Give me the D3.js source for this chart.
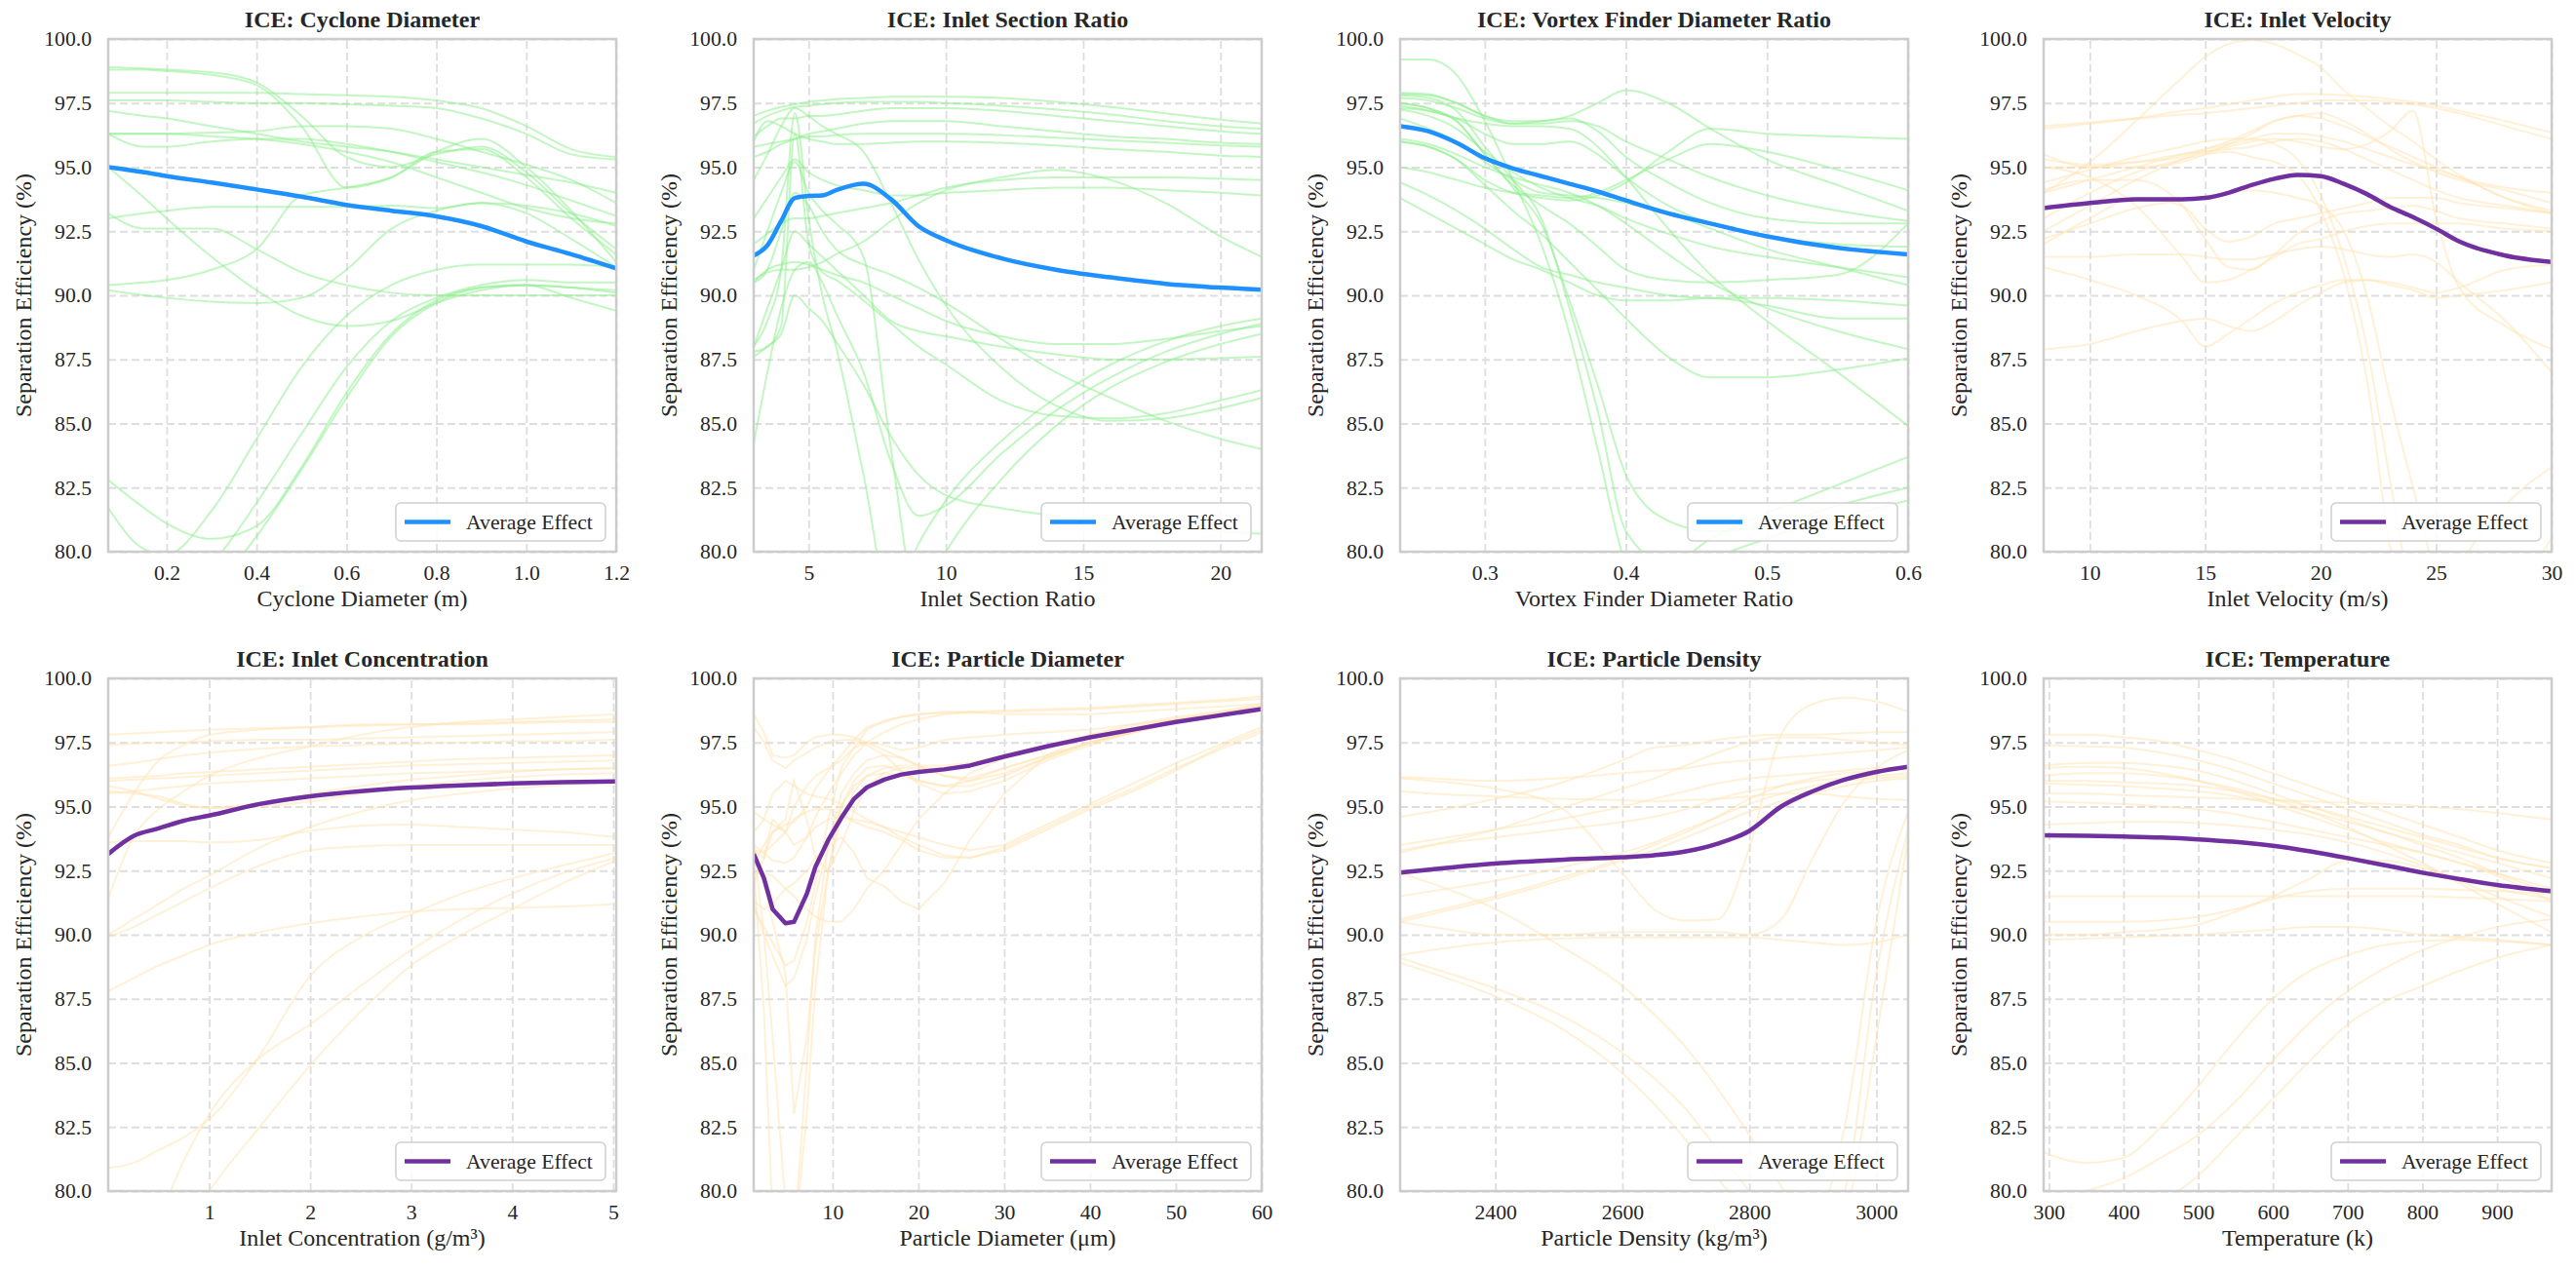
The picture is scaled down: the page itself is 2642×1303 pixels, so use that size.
<!DOCTYPE html>
<html>
<head>
<meta charset="utf-8">
<script src="https://cdn.jsdelivr.net/npm/d3@7"></script>
<style>
  html, body { margin: 0; padding: 0; background: #fff; }
  svg { display: block; }
</style>
</head>
<body>
<div id="chart"></div>
<script>
// ---- shared axis data ----
const yTicks = [80, 82.5, 85, 87.5, 90, 92.5, 95, 97.5, 100];

// ---- Cyclone Diameter ----
const cycloneX = [0.07, 0.15, 0.2, 0.3, 0.4, 0.5, 0.6, 0.7, 0.8, 0.9, 1.0, 1.1, 1.2];
const cycloneAvg = [95.0, 94.8, 94.65, 94.4, 94.13, 93.85, 93.53, 93.3, 93.08, 92.7, 92.1, 91.6, 91.05];
const cycloneIce = [
  [98.9, 98.85, 98.8, 98.7, 98.3, 97.0, 95.4, 95.0, 95.5, 95.8, 94.8, 93.2, 91.8],
  [98.8, 98.8, 98.75, 98.6, 98.2, 96.6, 94.2, 94.6, 95.6, 95.7, 94.6, 93.0, 91.6],
  [97.9, 97.9, 97.9, 97.9, 97.9, 97.85, 97.8, 97.75, 97.6, 97.3, 96.6, 95.7, 95.4],
  [97.6, 97.6, 97.6, 97.55, 97.5, 97.5, 97.45, 97.4, 97.3, 96.9, 96.3, 95.5, 95.3],
  [97.2, 97.0, 96.9, 96.6, 96.3, 96.0, 95.8, 95.6, 95.3, 95.0, 94.7, 94.4, 94.0],
  [96.3, 96.3, 96.3, 96.35, 96.4, 96.6, 96.6, 96.5, 96.1, 95.6, 95.1, 94.5, 93.6],
  [96.3, 95.8, 95.8, 96.0, 96.1, 96.1, 95.9, 95.6, 95.2, 94.8, 94.3, 93.7, 93.1],
  [96.3, 96.3, 96.3, 96.2, 96.1, 95.9, 95.6, 95.2, 94.6, 94.0, 93.4, 93.0, 92.8],
  [95.0, 93.8, 93.0, 91.5, 90.2, 89.2, 88.8, 89.0, 89.7, 90.2, 90.4, 90.3, 90.1],
  [93.2, 92.6, 92.6, 92.6, 91.8, 90.9, 90.4, 90.1, 90.0, 90.0, 90.0, 90.0, 90.0],
  [93.0, 93.2, 93.3, 93.45, 93.45, 93.45, 93.45, 93.5, 93.4, 93.6, 93.5, 93.2, 92.7],
  [90.4, 90.5, 90.6, 91.0, 91.8, 93.9, 94.2, 94.6, 95.6, 96.1, 95.0, 93.3, 91.3],
  [90.2, 90.0, 89.9, 89.75, 89.7, 89.9, 91.0, 92.6, 93.3, 93.6, 93.2, 92.2, 91.1],
  [82.8, 81.7, 81.1, 80.5, 81.0, 83.3, 86.2, 88.5, 89.8, 90.3, 90.4, 90.3, 90.2],
  [81.7, 80.1, 79.9, 81.6, 84.4, 87.2, 89.2, 90.4, 91.0, 91.2, 91.2, 91.2, 91.1],
  [77.0, 77.5, 78.0, 79.5, 81.9, 84.6, 87.2, 89.0, 89.9, 90.4, 90.6, 90.5, 90.5],
  [76.0, 76.5, 77.0, 78.5, 80.6, 83.2, 86.0, 88.4, 89.7, 90.3, 90.4, 89.9, 89.4]
];

// ---- Inlet Section Ratio ----
const sectionX = [3, 3.5, 4, 4.5, 5, 5.5, 6, 7, 8, 9, 10, 12, 14, 16, 18, 20, 21.5];
const sectionAvg = [91.55, 91.95, 92.9, 93.8, 93.88, 93.9, 94.1, 94.35, 93.75, 92.7, 92.15, 91.45, 91.0, 90.7, 90.45, 90.3, 90.22];
const sectionIce = [
  [97.0, 97.2, 97.35, 97.45, 97.55, 97.6, 97.65, 97.7, 97.75, 97.75, 97.75, 97.7, 97.55, 97.35, 97.1, 96.85, 96.7],
  [96.7, 97.0, 97.2, 97.35, 97.4, 97.45, 97.5, 97.55, 97.55, 97.55, 97.5, 97.4, 97.25, 97.05, 96.8, 96.6, 96.5],
  [96.2, 96.6, 96.9, 96.9, 97.0, 97.0, 97.05, 97.2, 97.3, 97.3, 97.3, 97.2, 97.0, 96.8, 96.6, 96.4, 96.3],
  [95.4, 95.6, 95.9, 96.1, 96.3, 96.4, 96.5, 96.7, 96.8, 96.8, 96.8, 96.6, 96.4, 96.2, 96.1, 95.95, 95.9],
  [95.8, 95.9, 96.0, 96.1, 96.2, 96.2, 96.25, 96.3, 96.3, 96.3, 96.3, 96.25, 96.15, 96.05, 95.95, 95.85, 95.8],
  [96.0, 96.8, 96.6, 96.3, 96.1, 96.0, 95.9, 95.9, 95.95, 96.0, 96.0, 95.95, 95.85, 95.7, 95.6, 95.45, 95.4],
  [92.0, 92.4, 92.8, 93.0, 93.0, 93.1, 93.2, 93.4, 93.6, 93.9, 94.2, 94.5, 94.6, 94.6, 94.6, 94.55, 94.5],
  [90.6, 90.9, 91.0, 91.0, 91.1, 91.3, 91.6, 92.1, 92.9, 93.6, 94.1, 94.6, 94.9, 94.5, 93.6, 92.3, 91.5],
  [93.0, 93.8, 94.6, 95.3, 94.8, 94.5, 94.3, 94.1, 93.9, 93.9, 94.0, 94.1, 94.2, 94.2, 94.1, 94.0, 93.9],
  [94.5, 95.5, 96.6, 97.3, 97.0, 96.6, 96.3, 95.6, 93.6, 91.4, 89.6, 87.2, 85.7, 85.1, 85.2, 85.6, 86.0],
  [87.8, 88.0, 88.8, 96.3, 92.0, 90.9, 90.6, 89.8, 88.9, 88.0, 87.3, 85.9, 85.3, 85.2, 85.4, 85.9, 86.3],
  [88.0, 89.0, 91.0, 97.1, 93.0, 90.0, 88.0, 83.0, 78.0, 80.3, 82.0, 84.3, 86.0, 87.3, 88.2, 88.8, 89.1],
  [91.0, 92.5, 94.0, 95.2, 94.0, 93.3, 92.8, 91.5, 84.0, 78.0, 80.0, 82.8, 84.9, 86.4, 87.4, 88.1, 88.5],
  [84.2, 87.0, 89.5, 91.0, 91.3, 90.5, 89.3, 87.0, 83.5, 81.4, 81.8, 83.8, 85.5, 86.8, 87.8, 88.5, 88.9],
  [90.5, 91.0, 91.2, 91.3, 91.2, 91.0, 90.8, 90.5, 90.0, 89.5, 89.0, 88.4, 88.1, 88.1, 88.3, 88.6, 88.8],
  [88.0, 89.5, 91.0, 92.5, 92.0, 91.5, 91.0, 90.0, 89.0, 88.6, 88.4, 88.0, 87.7, 87.5, 87.5, 87.55, 87.6],
  [90.5, 91.0, 92.5, 94.0, 93.5, 92.5, 91.8, 91.2, 90.8, 90.3, 89.7, 88.3, 87.0, 86.0, 85.1, 84.4, 84.0],
  [87.6, 88.0, 88.5, 90.0, 89.5, 89.0, 88.2, 86.5, 84.5, 83.0, 82.2, 81.7, 81.4, 81.2, 81.0, 80.8, 80.7]
];

// ---- Vortex Finder Diameter Ratio ----
const vortexX = [0.24, 0.26, 0.28, 0.30, 0.32, 0.34, 0.36, 0.38, 0.40, 0.43, 0.46, 0.50, 0.55, 0.60];
const vortexAvg = [96.6, 96.4, 95.95, 95.35, 94.95, 94.65, 94.35, 94.05, 93.7, 93.2, 92.8, 92.3, 91.85, 91.6];
const vortexIce = [
  [99.2, 99.2, 98.6, 96.8, 94.5, 92.0, 88.5, 84.0, 79.5, 77.5, 79.5, 80.5, 81.3, 82.0],
  [97.8, 97.7, 97.2, 95.8, 94.5, 93.0, 89.5, 85.5, 80.8, 79.5, 80.5, 81.5, 82.6, 83.7],
  [97.5, 97.3, 96.8, 95.5, 94.2, 92.8, 89.8, 86.5, 83.0, 81.2, 80.8, 81.0, 81.8, 82.5],
  [97.9, 97.85, 97.5, 97.0, 96.8, 96.8, 97.0, 97.5, 98.0, 97.5, 96.5, 95.3, 94.3, 93.3],
  [96.0, 95.8, 95.3, 94.5, 94.0, 93.8, 93.7, 93.9, 94.4, 95.6, 96.5, 96.3, 96.2, 96.1],
  [95.0, 94.8, 94.5, 94.2, 94.0, 93.9, 93.8, 94.0, 94.5, 95.3, 95.9, 95.6, 94.9, 94.1],
  [97.85, 97.8, 97.5, 97.0, 96.7, 96.7, 96.8, 96.6, 96.0, 95.3, 94.6, 93.9, 93.3, 92.9],
  [97.7, 97.6, 97.3, 96.9, 96.7, 96.8, 96.9, 96.4, 95.4, 94.4, 93.6, 93.0, 92.8, 92.8],
  [97.4, 97.2, 96.9, 96.3, 95.9, 95.9, 96.0, 95.5, 94.6, 93.5, 92.8, 92.3, 92.0, 91.9],
  [97.25, 97.0, 96.5, 95.6, 94.8, 94.2, 93.8, 93.5, 93.0, 92.4, 91.9, 91.5, 91.1, 90.7],
  [96.9, 96.5, 96.0, 95.2, 94.5, 94.0, 93.9, 93.8, 93.6, 93.2, 92.6, 91.8, 91.1, 90.4],
  [97.3, 97.2, 96.9, 96.7, 96.6, 96.6, 96.5, 95.8, 94.6, 92.6, 90.8, 89.0, 87.0, 84.9],
  [96.1, 95.9, 95.5, 95.0, 94.6, 94.3, 94.0, 93.5, 92.8, 91.6, 90.5, 89.5, 88.6, 87.9],
  [96.0, 95.8, 95.3, 94.3, 93.3, 92.4, 91.3, 90.2, 89.1, 87.6, 86.8, 86.8, 87.1, 87.55],
  [94.4, 93.9, 93.3, 92.6, 91.8, 91.1, 90.8, 90.5, 90.3, 90.0, 89.9, 89.9, 89.8, 89.6],
  [93.8, 93.2, 92.6, 92.0, 91.4, 91.0, 90.5, 90.0, 89.8, 89.8, 89.9, 89.6, 89.1, 89.1],
  [97.5, 97.3, 96.8, 95.5, 94.3, 93.5, 92.8, 91.9, 91.0, 90.6, 90.5, 90.6, 90.8, 92.8]
];

// ---- Inlet Velocity ----
const velocityX = [8, 10, 12, 14, 15, 16, 17, 18, 19, 20, 21, 22, 23, 24, 25, 26, 28, 30];
const velocityAvg = [93.4, 93.6, 93.75, 93.75, 93.8, 94.0, 94.3, 94.55, 94.7, 94.65, 94.35, 93.95, 93.45, 93.05, 92.6, 92.1, 91.55, 91.3];
const velocityIce = [
  [94.0, 95.2, 96.8, 98.5, 99.3, 99.8, 99.95, 99.8, 99.4, 98.9, 98.0, 97.3, 96.6, 96.0, 95.3, 94.7, 93.8, 93.2],
  [96.5, 96.7, 96.9, 97.2, 97.3, 97.45, 97.6, 97.75, 97.85, 97.85, 97.8, 97.75, 97.65, 97.55, 97.4, 97.2, 96.8, 96.35],
  [96.6, 96.75, 96.9, 97.05, 97.1, 97.2, 97.3, 97.4, 97.5, 97.6, 97.6, 97.6, 97.55, 97.45, 97.3, 97.1, 96.6, 96.1],
  [92.5, 93.5, 94.5, 95.3, 95.6, 95.8, 96.0, 96.1, 96.0, 95.8, 95.7, 95.9, 96.4, 97.2, 93.0, 90.3, 88.8, 87.9],
  [95.5, 95.0, 95.0, 95.2, 95.5, 95.9, 96.3, 96.8, 97.0, 97.1, 96.8, 96.3, 95.7, 95.2, 94.8, 94.5, 94.1, 93.6],
  [95.3, 95.1, 95.2, 95.4, 95.7, 96.0, 96.4, 96.8, 97.0, 96.9, 96.6, 96.2, 95.8, 95.4, 95.0, 94.6, 94.2, 94.0],
  [94.0, 94.5, 95.0, 95.5, 95.7, 95.9, 96.1, 96.3, 96.3, 96.2, 96.0, 95.7, 95.4, 95.1, 94.9, 94.6, 93.8, 93.3],
  [95.0, 95.0, 95.2, 95.5, 95.6, 95.7, 95.8, 96.0, 96.1, 96.0, 95.7, 95.3, 94.9, 94.5, 94.1, 93.8, 93.5, 93.2],
  [93.0, 94.0, 94.8, 95.3, 95.5, 95.6, 95.4, 95.2, 94.7, 93.3, 90.8, 86.7, 80.2, 77.0, 77.0, 79.3, 81.8, 83.3],
  [94.4, 94.9, 95.4, 95.8, 96.0, 96.1, 96.1, 95.9, 95.3, 93.9, 91.5, 88.0, 82.8, 78.0, 76.0, 76.0, 78.0, 80.5],
  [92.2, 92.8, 93.4, 93.7, 93.8, 94.0, 94.1, 94.0, 93.8, 93.5, 92.5, 90.0, 86.0, 82.5, 79.0, 76.5, 75.0, 75.0],
  [91.1, 90.6, 90.0, 89.0, 88.0, 88.5, 89.1, 89.7, 90.1, 90.4, 90.6, 90.6, 90.4, 90.2, 89.9, 90.0, 90.2, 90.5],
  [87.9, 88.1, 88.6, 89.0, 89.1, 88.8, 88.6, 89.0, 89.6, 90.1, 90.5, 90.6, 90.5, 90.3, 90.1, 90.3, 91.0, 91.2],
  [91.5, 91.5, 91.6, 91.6, 91.5, 91.4, 91.4, 91.6, 91.8, 91.9, 91.8, 91.6, 91.5, 91.6, 91.3, 90.5, 89.0, 87.0],
  [92.0, 93.0, 93.8, 93.5, 92.6, 92.1, 92.3, 92.8, 93.0, 93.2, 93.4, 93.6, 93.8, 93.8, 93.8, 93.6, 93.4, 93.2],
  [94.1, 94.5, 94.5, 93.5, 92.2, 91.1, 91.0, 91.6, 92.4, 92.9, 93.2, 93.3, 93.4, 93.5, 93.3, 93.0, 92.8, 92.6],
  [95.0, 94.6, 93.5, 91.5, 90.5, 90.6, 91.0, 91.5, 92.0, 92.2, 92.5, 92.7, 92.8, 92.8, 92.8, 92.8, 92.6, 92.5]
];

// ---- Inlet Concentration ----
const concX = [0, 0.25, 0.5, 0.75, 1, 1.5, 2, 2.5, 3, 3.5, 4, 4.5, 5.03];
const concAvg = [93.15, 93.85, 94.15, 94.45, 94.65, 95.1, 95.4, 95.6, 95.74, 95.83, 95.9, 95.95, 95.98];
const concIce = [
  [97.8, 97.85, 97.9, 97.95, 98.0, 98.05, 98.1, 98.15, 98.2, 98.2, 98.25, 98.3, 98.3],
  [93.8, 95.5, 96.8, 97.4, 97.8, 98.0, 98.1, 98.2, 98.2, 98.25, 98.3, 98.35, 98.4],
  [91.4, 93.8, 94.9, 95.6, 96.2, 96.9, 97.35, 97.8, 98.1, 98.3, 98.4, 98.5, 98.6],
  [97.4, 97.45, 97.5, 97.5, 97.55, 97.6, 97.6, 97.65, 97.7, 97.75, 97.8, 97.85, 97.9],
  [96.6, 96.7, 96.85, 97.0, 97.1, 97.25, 97.35, 97.4, 97.45, 97.5, 97.55, 97.55, 97.6],
  [96.1, 96.15, 96.2, 96.3, 96.35, 96.45, 96.55, 96.65, 96.75, 96.85, 96.9, 96.95, 97.0],
  [96.0, 96.05, 96.1, 96.15, 96.2, 96.3, 96.4, 96.5, 96.6, 96.65, 96.7, 96.75, 96.8],
  [95.8, 95.6, 95.3, 95.05, 94.95, 95.15, 95.5, 95.8, 96.05, 96.2, 96.35, 96.45, 96.5],
  [95.6, 95.5, 95.4, 95.1, 94.95, 95.0, 95.2, 95.5, 95.8, 96.0, 96.15, 96.25, 96.3],
  [95.5, 95.6, 95.7, 95.8, 95.9, 96.0, 96.1, 96.2, 96.3, 96.35, 96.4, 96.45, 96.5],
  [93.6, 93.65, 93.65, 93.65, 93.6, 93.7, 94.05, 94.25, 94.3, 94.2, 94.1, 94.0, 93.8],
  [89.9, 90.3, 90.8, 91.3, 91.8, 92.7, 93.3, 93.45, 93.5, 93.5, 93.5, 93.5, 93.5],
  [90.0, 90.6, 91.2, 91.8, 92.3, 93.4, 94.2, 94.8, 95.25, 95.5, 95.7, 95.85, 95.95],
  [87.8, 88.3, 88.8, 89.2, 89.6, 90.1, 90.45, 90.7, 90.9, 91.0, 91.05, 91.1, 91.2],
  [80.9, 81.1, 81.6, 82.1, 82.8, 85.3, 88.4, 89.9, 90.8, 91.6, 92.2, 92.7, 93.2],
  [77.0, 77.8, 79.0, 81.2, 83.0, 85.2, 86.5, 88.0, 89.4, 90.6, 91.6, 92.4, 93.0],
  [75.0, 76.0, 77.0, 78.5, 80.0, 82.5, 84.9, 87.0, 88.8, 90.0, 91.0, 92.0, 92.9]
];

// ---- Particle Diameter ----
const diameterX = [0.8, 2, 3, 4.5, 5.5, 7, 8, 9.5, 11, 12.5, 14, 16, 18, 20, 23, 26, 30, 35, 40, 45, 50, 55, 60];
const diameterAvg = [93.15, 92.2, 91.0, 90.45, 90.5, 91.6, 92.65, 93.7, 94.55, 95.3, 95.75, 96.05, 96.25, 96.35, 96.45, 96.6, 96.95, 97.35, 97.7, 98.0, 98.3, 98.55, 98.8];
const diameterIce = [
  [98.6, 97.9, 97.0, 96.9, 97.0, 97.5, 97.7, 97.8, 97.8, 97.7, 97.5, 97.2, 96.9, 96.6, 96.2, 96.0, 96.3, 96.9, 97.5, 98.0, 98.4, 98.7, 99.0],
  [98.1, 97.5, 96.8, 96.5, 96.8, 97.1, 97.3, 97.5, 97.6, 97.6, 97.4, 97.0, 96.4, 95.9, 95.5, 95.6, 96.0, 96.8, 97.4, 97.9, 98.3, 98.6, 98.9],
  [93.3, 93.0, 94.5, 94.0, 95.0, 95.8, 96.2, 96.5, 96.8, 97.3, 98.0, 98.35, 98.5, 98.6, 98.7, 98.7, 98.75, 98.8, 98.85, 98.95, 99.05, 99.15, 99.3],
  [92.8, 93.5, 94.0, 94.3, 94.4, 95.0, 95.7, 96.4, 97.0, 97.6, 98.1, 98.3, 98.5, 98.6, 98.65, 98.65, 98.7, 98.75, 98.8, 98.9, 99.0, 99.1, 99.2],
  [93.5, 93.2, 92.9, 92.8, 93.0, 93.8, 94.6, 95.5, 96.3, 97.0, 97.5, 97.9, 98.2, 98.4, 98.6, 98.7, 98.6, 98.6, 98.6, 98.7, 98.8, 98.9, 99.0],
  [91.3, 91.0, 91.2, 91.8, 92.0, 92.5, 93.0, 93.5, 93.8, 93.2, 92.2, 91.9, 91.3, 91.0, 92.0, 93.7, 95.5, 97.0, 97.8, 98.2, 98.5, 98.7, 98.9],
  [94.0, 94.5, 95.5, 96.0, 95.8, 95.5, 95.4, 95.3, 95.1, 94.8, 94.5, 94.2, 93.8, 93.5, 93.1, 93.0, 93.4, 94.2, 95.0, 95.7, 96.5, 97.2, 97.9],
  [93.3, 93.2, 93.5, 94.0, 94.5, 94.8, 94.9, 94.9, 94.7, 94.4, 94.2, 94.0, 93.7, 93.3, 93.0, 93.0, 93.3, 94.1, 94.9, 95.6, 96.4, 97.3, 98.0],
  [94.8, 94.5, 94.3, 94.0, 93.5, 93.8, 94.2, 94.5, 94.6, 94.5, 94.4, 94.2, 94.0, 93.8, 93.5, 93.3, 93.5, 94.3, 95.1, 95.9, 96.7, 97.4, 98.1],
  [92.5, 87.0, 79.0, 76.0, 78.0, 85.0, 90.0, 93.5, 95.5, 96.3, 96.8, 97.0, 96.9, 96.6, 96.2, 96.1, 96.5, 97.0, 97.5, 97.9, 98.3, 98.6, 98.9],
  [93.5, 90.0, 86.0, 79.5, 78.0, 83.0, 88.0, 92.5, 95.0, 96.0, 96.5, 96.6, 96.4, 96.0, 95.8, 96.0, 96.5, 97.0, 97.5, 97.9, 98.3, 98.6, 98.9],
  [91.2, 90.0, 89.2, 88.0, 88.3, 89.8, 91.5, 93.5, 95.0, 95.8, 96.2, 96.3, 96.2, 96.0, 95.8, 95.8, 96.2, 96.9, 97.5, 97.9, 98.3, 98.6, 98.9],
  [91.0, 90.3, 89.7, 88.8, 89.0, 90.5, 92.0, 94.5, 96.5, 97.3, 97.5, 97.4, 97.2, 97.3, 97.6, 97.7, 97.8, 97.9, 98.0, 98.2, 98.4, 98.6, 98.8],
  [92.4, 92.4, 92.3, 91.8, 91.5, 91.0, 90.7, 90.5, 90.5, 91.0, 91.8, 92.5, 93.5, 94.5, 95.5, 96.3, 96.9, 97.3, 97.7, 98.0, 98.3, 98.6, 98.8],
  [93.3, 92.0, 90.5, 88.5, 83.0, 86.0, 89.5, 92.5, 94.5, 95.6, 96.2, 96.5, 96.6, 96.6, 96.6, 96.7, 97.0, 97.4, 97.8, 98.1, 98.4, 98.6, 98.9],
  [92.0, 93.0, 94.0, 94.5, 96.0, 94.5, 93.0, 92.5, 93.5, 94.8, 95.8, 96.3, 96.5, 96.5, 96.5, 96.6, 96.9, 97.3, 97.7, 98.0, 98.3, 98.6, 98.8]
];

// ---- Particle Density ----
const densityX = [2250, 2300, 2400, 2500, 2600, 2650, 2700, 2750, 2800, 2850, 2900, 2950, 3000, 3050];
const densityAvg = [92.42, 92.55, 92.78, 92.92, 93.02, 93.1, 93.25, 93.55, 94.05, 95.0, 95.6, 96.05, 96.35, 96.55];
const densityIce = [
  [96.1, 96.0, 95.7, 95.0, 92.4, 91.0, 90.55, 90.6, 93.4, 97.8, 99.0, 99.25, 99.1, 98.7],
  [90.5, 90.3, 90.0, 90.0, 90.1, 90.1, 90.1, 90.1, 90.0, 90.6, 93.0, 95.2, 96.5, 97.2],
  [92.4, 92.0, 91.0, 89.6, 88.0, 86.9, 85.6, 84.0, 82.2, 80.2, 78.8, 82.5, 90.5, 94.8],
  [89.1, 88.7, 87.9, 86.9, 85.4, 84.4, 83.2, 81.6, 80.0, 78.5, 78.0, 80.0, 88.5, 94.1],
  [88.9, 88.5, 87.6, 86.4, 84.6, 83.4, 82.0, 80.5, 79.0, 78.0, 77.5, 79.0, 86.0, 93.8],
  [93.5, 93.7, 94.1, 94.5, 95.0, 95.3, 95.6, 95.9, 96.1, 96.2, 96.3, 96.4, 96.5, 96.5],
  [93.3, 93.5, 93.8, 94.1, 94.4, 94.6, 94.9, 95.3, 95.6, 95.8, 96.0, 96.1, 96.2, 96.3],
  [91.5, 91.7, 92.1, 92.6, 93.2, 93.6, 94.1, 94.6, 95.1, 95.5, 95.8, 96.0, 96.1, 96.2],
  [90.6, 90.9, 91.5, 92.2, 93.0, 93.5, 94.0, 94.6, 95.3, 95.8, 96.1, 96.3, 96.4, 96.5],
  [90.5, 90.8, 91.4, 92.1, 92.9, 93.3, 93.8, 94.3, 94.8, 95.2, 95.5, 95.8, 96.0, 96.1],
  [94.6, 94.8, 95.3, 95.9, 96.8, 97.3, 97.4, 97.6, 97.75, 97.8, 97.8, 97.85, 97.9, 97.9],
  [93.2, 93.5, 94.1, 94.9, 95.7, 96.1, 96.6, 97.1, 97.5, 97.7, 97.7, 97.6, 97.5, 97.4],
  [95.6, 95.5, 95.4, 95.3, 95.25, 95.2, 95.25, 95.3, 95.4, 95.5, 95.5, 95.4, 95.3, 95.25],
  [96.15, 96.1, 96.0, 96.1, 96.3, 96.4, 96.5, 96.7, 96.8, 96.9, 97.0, 97.1, 97.2, 97.3],
  [89.2, 89.4, 89.7, 89.85, 89.9, 89.9, 89.9, 89.9, 89.9, 89.8, 89.7, 89.6, 89.7, 90.0]
];

// ---- Temperature ----
const tempX = [293, 350, 400, 450, 500, 550, 600, 650, 700, 750, 800, 850, 900, 973];
const tempAvg = [93.88, 93.86, 93.83, 93.79, 93.72, 93.62, 93.47, 93.25, 92.99, 92.71, 92.42, 92.17, 91.94, 91.7];
const tempIce = [
  [97.8, 97.8, 97.7, 97.55, 97.2, 96.8, 96.3, 95.8, 95.3, 94.8, 94.3, 93.8, 93.3, 92.8],
  [97.4, 97.35, 97.3, 97.1, 96.8, 96.4, 95.9, 95.4, 94.9, 94.4, 93.9, 93.5, 93.0, 92.6],
  [96.6, 96.7, 96.7, 96.6, 96.4, 96.0, 95.5, 95.0, 94.5, 94.0, 93.6, 93.2, 92.8, 92.2],
  [96.5, 96.55, 96.5, 96.3, 96.0, 95.6, 95.1, 94.6, 94.1, 93.6, 93.2, 92.8, 92.4, 91.8],
  [96.2, 96.3, 96.3, 96.2, 96.0, 95.7, 95.3, 94.8, 94.2, 93.5, 92.8, 92.0, 91.2, 90.1],
  [96.0, 96.0, 95.95, 95.9, 95.8, 95.6, 95.3, 95.0, 94.6, 94.2, 93.8, 93.4, 93.0, 92.6],
  [95.9, 95.85, 95.8, 95.7, 95.6, 95.4, 95.1, 94.8, 94.4, 94.0, 93.5, 93.0, 92.4, 91.6],
  [95.5, 95.5, 95.45, 95.4, 95.35, 95.3, 95.25, 95.2, 95.15, 95.1, 95.0, 94.9, 94.75, 94.5],
  [95.2, 95.15, 95.1, 95.0, 94.9, 94.7, 94.4, 94.1, 93.8, 93.5, 93.2, 92.8, 92.3, 91.3],
  [94.3, 94.35, 94.4, 94.4, 94.35, 94.25, 94.1, 93.9, 93.6, 93.2, 92.7, 92.1, 91.5, 90.7],
  [91.5, 91.5, 91.5, 91.5, 91.5, 91.5, 91.5, 91.5, 91.5, 91.5, 91.5, 91.45, 91.4, 91.3],
  [90.5, 90.5, 90.5, 90.55, 90.7, 91.0, 91.4, 91.7, 91.8, 91.8, 91.8, 91.75, 91.7, 91.6],
  [90.0, 90.0, 90.1, 90.2, 90.4, 90.9, 91.5, 92.2, 92.9, 92.9, 92.6, 92.2, 91.8, 91.4],
  [89.8, 89.85, 89.9, 89.95, 90.0, 90.1, 90.2, 90.3, 90.3, 90.2, 90.0, 89.9, 89.8, 89.6],
  [81.5, 81.1, 81.3, 82.5, 84.1, 85.9, 87.5, 88.6, 89.2, 89.6, 89.75, 89.8, 89.75, 89.6],
  [79.5, 80.0, 80.5, 81.3, 82.2, 83.5, 85.1, 86.6, 87.8, 88.7, 89.4, 89.9, 90.3, 90.6],
  [76.0, 77.0, 78.2, 79.5, 80.6, 82.1, 83.6, 85.1, 86.5, 87.4, 88.0, 88.6, 89.1, 89.6]
];

// ---- panel labels and ticks ----
const titles = ['ICE: Cyclone Diameter', 'ICE: Inlet Section Ratio', 'ICE: Vortex Finder Diameter Ratio', 'ICE: Inlet Velocity',
                'ICE: Inlet Concentration', 'ICE: Particle Diameter', 'ICE: Particle Density', 'ICE: Temperature'];
const xLabels = ['Cyclone Diameter (m)', 'Inlet Section Ratio', 'Vortex Finder Diameter Ratio', 'Inlet Velocity (m/s)',
                 'Inlet Concentration (g/m\u00B3)', 'Particle Diameter (\u03BCm)', 'Particle Density (kg/m\u00B3)', 'Temperature (k)'];
const xDomains = [[0.07, 1.2], [3, 21.5], [0.24, 0.6], [8, 30], [0, 5.03], [0.8, 60], [2250, 3050], [293, 973]];
const xTickSets = [
  [0.2, 0.4, 0.6, 0.8, 1.0, 1.2],
  [5, 10, 15, 20],
  [0.3, 0.4, 0.5, 0.6],
  [10, 15, 20, 25, 30],
  [1, 2, 3, 4, 5],
  [10, 20, 30, 40, 50, 60],
  [2400, 2600, 2800, 3000],
  [300, 400, 500, 600, 700, 800, 900]
];
const xSeries = [cycloneX, sectionX, vortexX, velocityX, concX, diameterX, densityX, tempX];
const avgSeries = [cycloneAvg, sectionAvg, vortexAvg, velocityAvg, concAvg, diameterAvg, densityAvg, tempAvg];
const iceSeries = [cycloneIce, sectionIce, vortexIce, velocityIce, concIce, diameterIce, densityIce, tempIce];

// ---- layout / style ----
const W = 2642, H = 1303;
const plotLeft = [111, 773, 1436, 2096];
const plotTop = [40, 696];
const plotW = 521, plotH = 526;
const FONT = '"Liberation Serif", "Times New Roman", Times, serif';
const TEXT = '#262626';
const BLUE = '#1e90ff', PURPLE = '#7030a0';
const GREEN_ICE = '#90ee90', YELLOW_ICE = '#ffe4b0';

const svg = d3.select('#chart').append('svg')
    .attr('width', W)
    .attr('height', H)
    .style('background', '#fff');

titles.forEach((title, i) => {
    const col = i % 4, row = Math.floor(i / 4);
    const greenSet = i < 3;
    const avgColor = greenSet ? BLUE : PURPLE;

    const g = svg.append('g')
        .attr('transform', `translate(${plotLeft[col]},${plotTop[row]})`);

    const x = d3.scaleLinear().domain(xDomains[i]).range([0, plotW]);
    const y = d3.scaleLinear().domain([80, 100]).range([plotH, 0]);

    g.append('clipPath').attr('id', 'clip' + i)
        .append('rect').attr('width', plotW).attr('height', plotH);

    // dashed grid
    const gridX = g.append('g')
        .attr('transform', `translate(0,${plotH})`)
        .call(d3.axisBottom(x).tickValues(xTickSets[i]).tickSize(-plotH).tickFormat(''));
    const gridY = g.append('g')
        .call(d3.axisLeft(y).tickValues(yTicks).tickSize(-plotW).tickFormat(''));
    [gridX, gridY].forEach(gr => {
        gr.select('.domain').remove();
        gr.selectAll('line')
            .attr('stroke', '#dedede')
            .attr('stroke-width', 1.8)
            .attr('stroke-dasharray', '8,4');
    });

    // ICE curves + average
    const curve = i === 5 ? d3.curveLinear : d3.curveMonotoneX;
    const xs = xSeries[i];
    const line = d3.line()
        .x((d, j) => x(xs[j]))
        .y(d => y(d))
        .curve(curve);

    const lines = g.append('g').attr('clip-path', `url(#clip${i})`);
    lines.selectAll('path.ice')
        .data(iceSeries[i])
        .join('path')
        .attr('class', 'ice')
        .attr('d', line)
        .attr('fill', 'none')
        .attr('stroke', greenSet ? GREEN_ICE : YELLOW_ICE)
        .attr('stroke-opacity', greenSet ? 0.55 : 0.5)
        .attr('stroke-width', 2);

    lines.append('path')
        .datum(avgSeries[i])
        .attr('d', line)
        .attr('fill', 'none')
        .attr('stroke', avgColor)
        .attr('stroke-width', 4.5)
        .attr('stroke-linejoin', 'round');

    // frame
    g.append('rect')
        .attr('width', plotW)
        .attr('height', plotH)
        .attr('fill', 'none')
        .attr('stroke', '#cccccc')
        .attr('stroke-width', 2.5);

    // tick labels
    const fmtX = (i === 0 || i === 2) ? d3.format('.1f') : d3.format('d');
    const ax = g.append('g')
        .attr('transform', `translate(0,${plotH})`)
        .call(d3.axisBottom(x).tickValues(xTickSets[i]).tickSize(0).tickPadding(14).tickFormat(fmtX));
    const ay = g.append('g')
        .call(d3.axisLeft(y).tickValues(yTicks).tickSize(0).tickPadding(17).tickFormat(d3.format('.1f')));
    [ax, ay].forEach(a => {
        a.select('.domain').remove();
        a.selectAll('text')
            .attr('font-family', FONT)
            .attr('font-size', 21.7)
            .attr('fill', TEXT);
    });

    // title and axis labels
    g.append('text')
        .attr('x', plotW / 2)
        .attr('y', -12)
        .attr('text-anchor', 'middle')
        .attr('font-family', FONT)
        .attr('font-weight', 'bold')
        .attr('font-size', 24)
        .attr('fill', TEXT)
        .text(title);

    g.append('text')
        .attr('x', plotW / 2)
        .attr('y', plotH + 56)
        .attr('text-anchor', 'middle')
        .attr('font-family', FONT)
        .attr('font-size', 24)
        .attr('fill', TEXT)
        .text(xLabels[i]);

    g.append('text')
        .attr('transform', `translate(-87,${plotH / 2}) rotate(-90)`)
        .attr('text-anchor', 'middle')
        .attr('dominant-baseline', 'central')
        .attr('font-family', FONT)
        .attr('font-size', 24)
        .attr('fill', TEXT)
        .text('Separation Efficiency (%)');

    // legend
    const lg = g.append('g')
        .attr('transform', `translate(${plotW - 11 - 215},${plotH - 11 - 39})`);
    lg.append('rect')
        .attr('width', 215)
        .attr('height', 39)
        .attr('rx', 5)
        .attr('fill', '#fff')
        .attr('fill-opacity', 0.85)
        .attr('stroke', '#d0d0d0')
        .attr('stroke-width', 1.5);
    lg.append('line')
        .attr('x1', 9).attr('x2', 56)
        .attr('y1', 19.5).attr('y2', 19.5)
        .attr('stroke', avgColor)
        .attr('stroke-width', 4.5);
    lg.append('text')
        .attr('x', 72)
        .attr('y', 19.5)
        .attr('dominant-baseline', 'central')
        .attr('font-family', FONT)
        .attr('font-size', 21.7)
        .attr('fill', TEXT)
        .text('Average Effect');
});
</script>
</body>
</html>
